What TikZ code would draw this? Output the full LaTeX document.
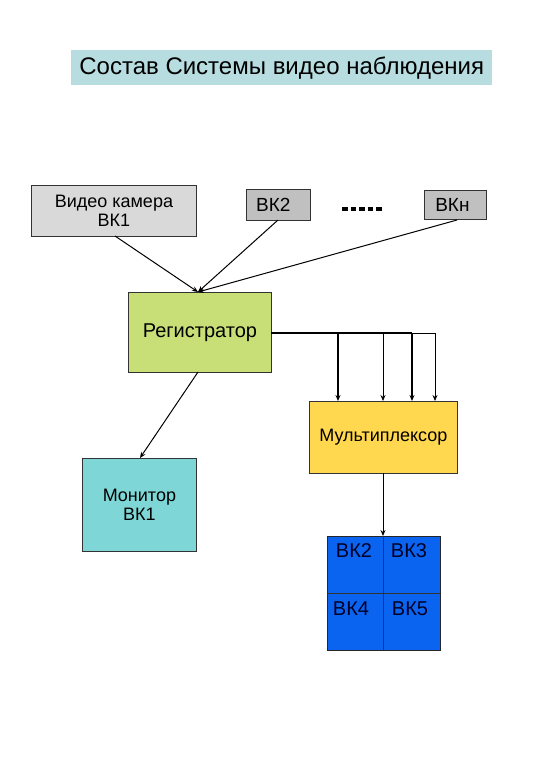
\documentclass[tikz,border=0pt]{standalone}
\usepackage{fontspec}
\setmainfont{Liberation Sans}
\usetikzlibrary{arrows.meta}
\definecolor{titlefill}{HTML}{B7DDE0}
\definecolor{camfill}{HTML}{D9D9D9}
\definecolor{camfilldark}{HTML}{C0C0C0}
\definecolor{regfill}{HTML}{C8DF78}
\definecolor{muxfill}{HTML}{FFD84F}
\definecolor{monfill}{HTML}{7ED6D6}
\definecolor{gridfill}{HTML}{0A64F0}
\tikzset{
  box/.style={draw=black!80, line width=0.8pt, anchor=north west, inner sep=0pt, align=center, font=\fontsize{18}{20}\selectfont},
  conn/.style={line width=1pt, -{Stealth[length=6pt,width=5pt]}},
  thickdrop/.style={line width=1.6pt, -{Stealth[length=6pt,width=5pt]}},
  thindrop/.style={line width=0.8pt, -{Stealth[length=6pt,width=5pt]}},
  celltext/.style={font=\fontsize{20}{22}\selectfont, text=black!85!blue}
}
\begin{document}
\begin{tikzpicture}[x=1pt,y=-1pt]
\useasboundingbox[fill=white] (0,0) rectangle (540,780);
% title
\node[anchor=north west, fill=titlefill, minimum width=421pt, minimum height=35pt, inner sep=0pt, font=\fontsize{24}{27}\selectfont] (title) at (71,50) {Состав Системы видео наблюдения};
% cameras
\node[box, fill=camfill, minimum width=165pt, minimum height=51pt] (vk1) at (31,185) {Видео камера\\[-1pt]ВК1};
\node[box, fill=camfilldark, minimum width=64pt, minimum height=31pt, font=\fontsize{19}{21}\selectfont] (vk2) at (246,189) {ВК2\hspace*{10pt}};
\node[box, fill=camfilldark, minimum width=62pt, minimum height=29pt, font=\fontsize{19}{21}\selectfont] (vkn) at (424,190) {ВКн\hspace*{6pt}};
\coordinate (dotsA) at (342,209);
\coordinate (dotsB) at (383,209);
\draw[line width=3.5pt, dash pattern=on 5.5pt off 3pt] (dotsA) -- (dotsB);
% registrator
\node[box, fill=regfill, minimum width=143pt, minimum height=80pt, font=\fontsize{20}{22}\selectfont] (reg) at (128,292) {Регистратор};
\coordinate (regin) at (198,292);
\draw[conn] (115,236) -- (regin);
\draw[conn] (278,220) -- (regin);
\draw[conn] (457,220) -- (regin);
% multiplexer
\node[box, fill=muxfill, minimum width=148pt, minimum height=72pt] (mux) at (309,401) {Мультиплексор};
\coordinate (bus0) at (271,333);
\coordinate (bus1) at (338,333);
\coordinate (bus2) at (383,333);
\coordinate (bus3) at (412,333);
\coordinate (bus4) at (435,333);
\draw[line width=1.6pt] (bus0) -- (bus3);
\draw[line width=0.8pt] (bus3) -- (bus4);
\draw[thickdrop] (bus1) -- (338,401);
\draw[thindrop] (bus2) -- (383,401);
\draw[thickdrop] (bus3) -- (412,401);
\draw[thindrop] (bus4) -- (435,401);
% monitor
\node[box, fill=monfill, minimum width=114pt, minimum height=93pt] (mon) at (82,458) {Монитор\\[-1pt]ВК1};
\draw[conn] (198,372) -- (140,458);
% grid
\node[anchor=north west, draw=black!85, line width=1.3pt, fill=gridfill, minimum width=113pt, minimum height=114pt, inner sep=0pt] (grid) at (327,536) {};
\coordinate (gridtop) at (383,536);
\draw[line width=0.8pt, black!80] (gridtop) -- (383,650);
\draw[line width=0.8pt, black!80] (327,593) -- (440,593);
\draw[conn] (383,473) -- (gridtop);
\node[celltext] (c2) at (354,551) {ВК2};
\node[celltext] (c3) at (409,551) {ВК3};
\node[celltext] (c4) at (351,609) {ВК4};
\node[celltext] (c5) at (410,609) {ВК5};
\end{tikzpicture}
\end{document}
